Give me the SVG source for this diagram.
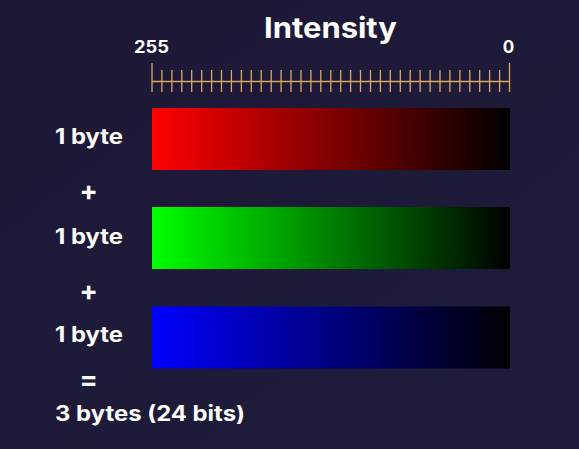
<svg xmlns="http://www.w3.org/2000/svg" width="579" height="449" viewBox="0 0 579 449">
<defs>
<linearGradient id="bg" x1="0" y1="0" x2="1" y2="1">
<stop offset="0" stop-color="#1e1736"/>
<stop offset="1" stop-color="#1d1d3b"/>
</linearGradient>
<linearGradient id="gr" x1="0" y1="0" x2="1" y2="0"><stop offset="0" stop-color="#ff0000"/><stop offset="1" stop-color="#000000"/></linearGradient>
<linearGradient id="gg" x1="0" y1="0" x2="1" y2="0"><stop offset="0" stop-color="#00ff00"/><stop offset="1" stop-color="#000000"/></linearGradient>
<linearGradient id="gb" x1="0" y1="0" x2="1" y2="0"><stop offset="0" stop-color="#0000ff"/><stop offset="1" stop-color="#000000"/></linearGradient>
</defs>
<style>
text{font-family:Inter,"Liberation Sans",sans-serif;font-weight:700;fill:#ffffff}
.lbl{font-size:21px}
.op{font-size:27px}
.sc{font-size:17px}
.tk{stroke:#dba862;stroke-width:1.3}
</style>
<rect width="579" height="449" fill="url(#bg)"/>
<g id="title"><text x="264" y="37.5" font-size="28" textLength="133" lengthAdjust="spacingAndGlyphs">Intensity</text></g>
<g id="scale">
<text class="sc" x="134" y="53" textLength="35" lengthAdjust="spacingAndGlyphs">255</text>
<text class="sc" x="508.5" y="53" text-anchor="middle">0</text>
<line class="tk" x1="152" y1="81.5" x2="509.5" y2="81.5"/>
<line class="tk" x1="152" y1="63" x2="152" y2="92"/>
<line class="tk" x1="509.5" y1="63" x2="509.5" y2="92"/>
<path class="tk" d="M161.9 70V92M171.9 70V92M181.8 70V92M191.7 70V92M201.7 70V92M211.6 70V92M221.5 70V92M231.4 70V92M241.4 70V92M251.3 70V92M261.2 70V92M271.2 70V92M281.1 70V92M291 70V92M301 70V92M310.9 70V92M320.8 70V92M330.8 70V92M340.7 70V92M350.6 70V92M360.5 70V92M370.5 70V92M380.4 70V92M390.3 70V92M400.3 70V92M410.2 70V92M420.1 70V92M430.1 70V92M440 70V92M449.9 70V92M459.9 70V92M469.8 70V92M479.7 70V92M489.6 70V92M499.6 70V92"/>
</g>
<g id="red"><rect x="152" y="108" width="358" height="62" fill="url(#gr)"/></g>
<g id="green"><rect x="152" y="207" width="358" height="62" fill="url(#gg)"/></g>
<g id="blue"><rect x="152" y="306.5" width="358" height="62" fill="url(#gb)"/></g>
<g id="labels">
<text class="lbl" x="55" y="143.5" textLength="68" lengthAdjust="spacingAndGlyphs">1 byte</text>
<text class="op" x="88.7" y="199.5" text-anchor="middle">+</text>
<text class="lbl" x="55" y="243.5" textLength="68" lengthAdjust="spacingAndGlyphs">1 byte</text>
<text class="op" x="88.7" y="299.5" text-anchor="middle">+</text>
<text class="lbl" x="55" y="341.5" textLength="68" lengthAdjust="spacingAndGlyphs">1 byte</text>
<text class="op" x="88.7" y="389" text-anchor="middle">=</text>
<text class="lbl" x="55" y="420.5" textLength="190" lengthAdjust="spacingAndGlyphs">3 bytes (24 bits)</text>
</g>
</svg>
